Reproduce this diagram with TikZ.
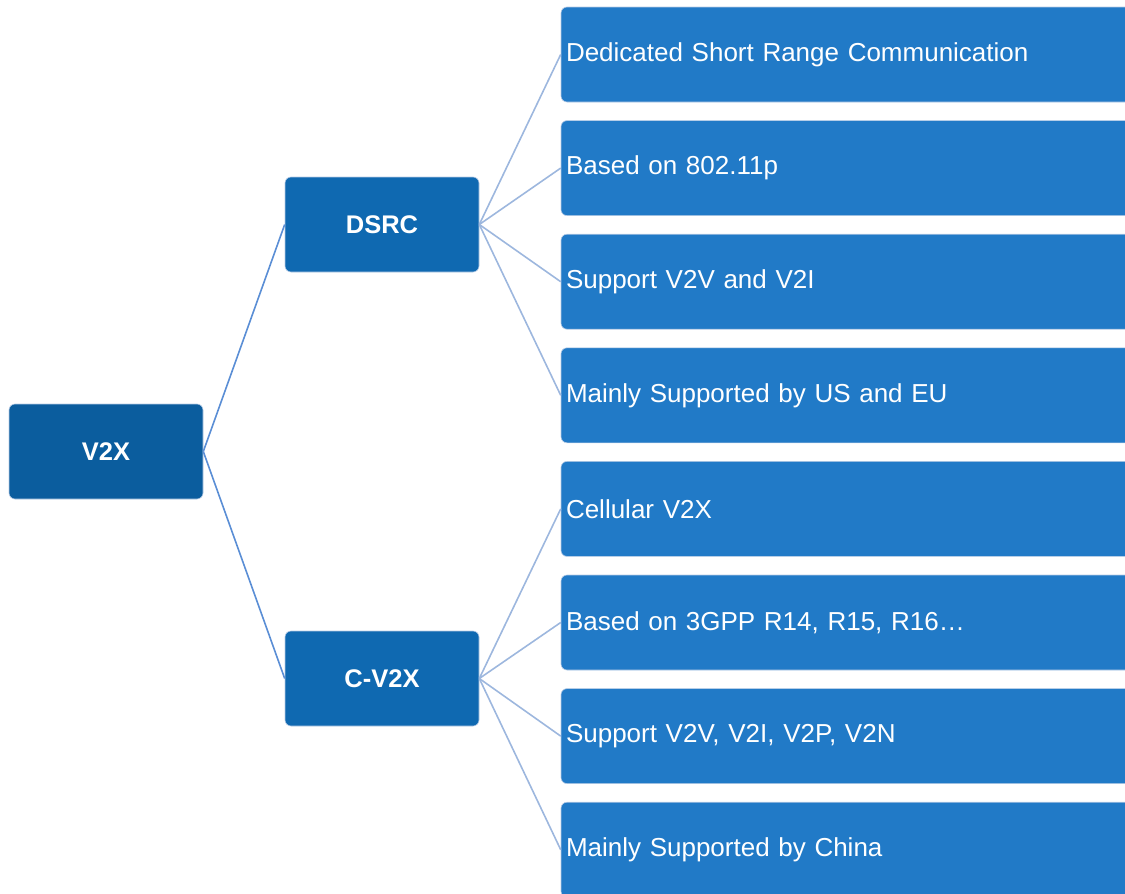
\documentclass[tikz,border=0pt]{standalone}
\usepackage{fontspec}
\setmainfont{Liberation Sans}
\definecolor{rootblue}{HTML}{0B5D9E}
\definecolor{midblue}{HTML}{0F69B1}
\definecolor{leafblue}{HTML}{217AC7}
\definecolor{linkA}{HTML}{5A8ED5}
\definecolor{linkB}{HTML}{9DB7DE}
\definecolor{edgeline}{HTML}{B8CCE6}
\tikzset{
  rootbox/.style={fill=rootblue, draw=edgeline, line width=0.6pt, rounded corners=6pt, minimum width=194pt, minimum height=95pt, text=white, font=\fontsize{25.5}{30}\selectfont\bfseries, inner sep=0pt},
  midbox/.style={fill=midblue, draw=edgeline, line width=0.6pt, rounded corners=6pt, minimum width=194pt, minimum height=95pt, text=white, font=\fontsize{25.5}{30}\selectfont\bfseries, inner sep=0pt},
  leafbox/.style={fill=leafblue, draw=edgeline, line width=0.6pt, rounded corners=6pt, minimum width=574pt, minimum height=95pt, text width=564pt, align=left, inner xsep=5pt, inner ysep=0pt, text=white, font=\fontsize{26}{30}\selectfont},
  linkone/.style={draw=linkA, line width=1.6pt},
  linktwo/.style={draw=linkB, line width=1.6pt}
}
\begin{document}
\begin{tikzpicture}[x=1pt,y=-1pt]
\useasboundingbox (0,0) rectangle (1125,894);
\clip (0,0) rectangle (1125,894);
\node[rootbox] (v2x) at (106,451.5) {V2X};
\node[midbox] (dsrc) at (382,224.5) {DSRC};
\node[midbox] (cv2x) at (382,678.5) {C-V2X};
\node[leafbox] (l1) at (848,54.5) {Dedicated Short Range Communication};
\node[leafbox] (l2) at (848,168.1) {Based on 802.11p};
\node[leafbox] (l3) at (848,281.7) {Support V2V and V2I};
\node[leafbox] (l4) at (848,395.3) {Mainly Supported by US and EU};
\node[leafbox] (l5) at (848,508.9) {Cellular V2X};
\node[leafbox] (l6) at (848,622.5) {Based on 3GPP R14, R15, R16…};
\node[leafbox] (l7) at (848,736.1) {Support V2V, V2I, V2P, V2N};
\node[leafbox] (l8) at (848,849.7) {Mainly Supported by China};
\draw[linkone] (v2x.east) -- (dsrc.west);
\draw[linkone] (v2x.east) -- (cv2x.west);
\foreach \l in {l1,l2,l3,l4} \draw[linktwo] (dsrc.east) -- (\l.west);
\foreach \l in {l5,l6,l7,l8} \draw[linktwo] (cv2x.east) -- (\l.west);
\end{tikzpicture}
\end{document}
